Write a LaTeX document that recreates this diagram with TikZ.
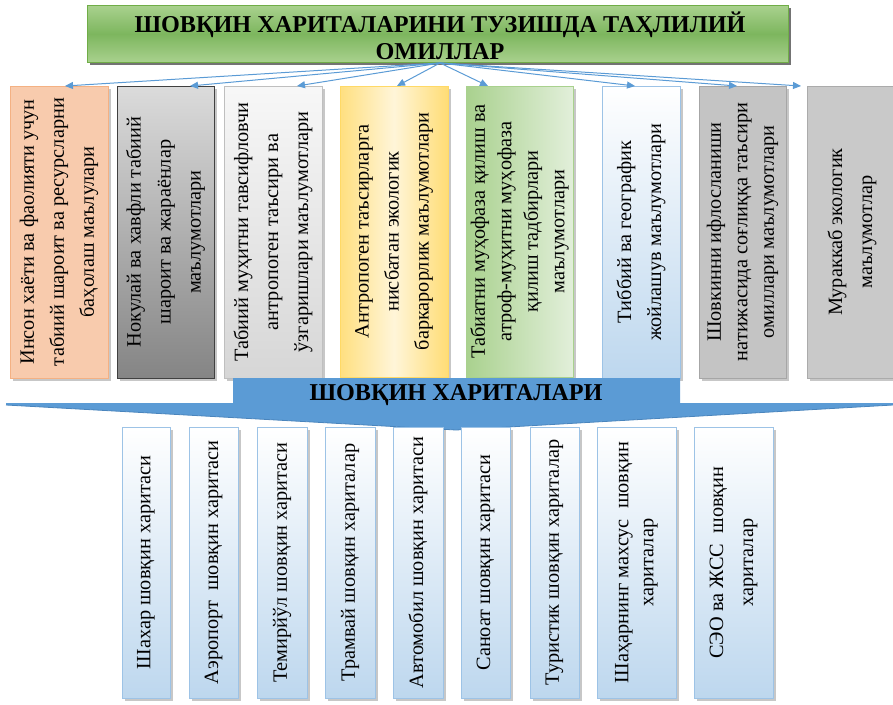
\documentclass[tikz,border=0pt]{standalone}
\usepackage{fontspec}
\setmainfont{Liberation Serif}
\usetikzlibrary{arrows.meta,shadows,calc}

\definecolor{linkblue}{HTML}{5B9BD5}
\definecolor{bannerblue}{HTML}{5B9BD5}
\definecolor{bannerdark}{HTML}{4A85BD}
\definecolor{titlegreen}{HTML}{A9D18E}
\definecolor{titlegreenmid}{HTML}{7DB65E}
\definecolor{titleborder}{HTML}{70AD47}
\definecolor{peach}{HTML}{F8CBAD}
\definecolor{peachborder}{HTML}{F4B183}
\definecolor{yellowstrong}{HTML}{FFD966}
\definecolor{yellowlight}{HTML}{FFF2CC}
\definecolor{greenstrong}{HTML}{A9D18E}
\definecolor{greenlight}{HTML}{E2EFDA}
\definecolor{paleblue}{HTML}{BDD7EE}
\definecolor{paleblueborder}{HTML}{9DC3E6}

\tikzset{
  panel/.style={anchor=north west, inner sep=0pt, outer sep=0pt, line width=0.8pt,
    drop shadow={shadow xshift=2.5pt, shadow yshift=-2.5pt, fill=black, opacity=0.22}},
  vtext/.style={rotate=90, align=center, inner sep=0pt,
    font=\fontsize{20.3}{30}\selectfont},
  vtextnarrow/.style={vtext, font=\fontsize{20.3}{26.5}\selectfont},
  mapbox/.style={panel, draw=paleblueborder, top color=white, bottom color=paleblue},
  link/.style={draw=linkblue, line width=1pt, -{Triangle[length=8pt,width=7pt]}},
  headfont/.style={font=\bfseries\fontsize{24.2}{27}\selectfont}
}

\begin{document}
\begin{tikzpicture}[x=1pt,y=-1pt]
\useasboundingbox (0,0) rectangle (893,704);

% title box
\node[anchor=north west, inner sep=0pt, minimum width=701pt, minimum height=57pt,
      draw=titleborder, line width=0.8pt,
      top color=titlegreen, bottom color=titlegreen, middle color=titlegreenmid,
      drop shadow={shadow xshift=3pt, shadow yshift=-3pt, fill=black, opacity=0.55}]
      (title) at (87,5) {};
\node[headfont, align=center, inner sep=0pt] (titletext) at (440,36)
  {ШОВҚИН ХАРИТАЛАРИНИ ТУЗИШДА ТАҲЛИЛИЙ\\ОМИЛЛАР};

% upper row of data sources
\node[panel, minimum width=98pt, minimum height=292pt, draw=peachborder, fill=peach] (u1) at (10,86) {};
\node[panel, minimum width=97pt, minimum height=292pt, draw=black!75,
      top color=black!14, bottom color=black!48] (u2) at (117,86) {};
\node[panel, minimum width=98pt, minimum height=292pt, draw=black!25,
      top color=black!3, bottom color=black!16] (u3) at (224,86) {};
\node[panel, minimum width=108pt, minimum height=291pt, draw=yellowstrong,
      left color=yellowstrong!75!yellowlight, right color=yellowstrong!85!yellowlight,
      middle color=yellowlight!75!white] (u4) at (340,86) {};
\node[panel, minimum width=107pt, minimum height=291pt, draw=greenstrong,
      left color=greenstrong, right color=greenlight] (u5) at (466,86) {};
\node[panel, minimum width=78pt, minimum height=292pt, draw=paleblueborder,
      top color=white, bottom color=paleblue] (u6) at (602,86) {};
\node[panel, minimum width=87pt, minimum height=292pt, draw=black!35,
      fill=black!23] (u7) at (699,86) {};
\node[panel, minimum width=90pt, minimum height=292pt, draw=black!33,
      fill=black!21] (u8) at (807,86) {};

\node[vtext] (ut1) at (u1.center) {Инсон хаёти ва фаолияти учун\\табиий шароит ва ресурсларни\\баҳолаш маълулари};
\node[vtext] (ut2) at (u2.center) {Нокулай ва хавфли табиий\\шароит ва жараёнлар\\маълумотлари};
\node[vtext] (ut3) at (u3.center) {Табиий муҳитни тавсифловчи\\антропоген таъсири ва\\ўзгаришлари маълумотлари};
\node[vtext] (ut4) at (u4.center) {Антропоген таъсирларга\\нисбатан экологик\\баркарорлик маълумотлари};
\node[vtextnarrow] (ut5) at (u5.center) {Табиатни муҳофаза қилиш ва\\атроф-муҳитни муҳофаза\\қилиш тадбирлари\\маълумотлари};
\node[vtext] (ut6) at (u6.center) {Тиббий ва географик\\жойлашув маълумотлари};
\node[vtextnarrow] (ut7) at (u7.center) {Шовкинни ифлосланиши\\натижасида соғлиққа таъсири\\омиллари маълумотлари};
\node[vtext] (ut8) at (u8.center) {Мураккаб экологик\\маълумотлар};

% connectors from the title box
\coordinate (hub) at (440,63);
\draw[link] (hub) -- ([xshift=55pt]u1.north west);
\draw[link] (hub) -- ([xshift=73pt]u2.north west);
\draw[link] (hub) -- ([xshift=73pt]u3.north west);
\draw[link] (hub) -- ([xshift=57pt]u4.north west);
\draw[link] (hub) -- ([xshift=22pt]u5.north west);
\draw[link] (hub) -- ([xshift=33pt]u6.north west);
\draw[link] (hub) -- ([xshift=38pt]u7.north west);
\draw[link] (hub) -- ([xshift=-6pt]u8.north west);

% banner arrow pointing down to the map types
\fill[bannerblue] (233,378) -- (680,378) -- (680,403) -- (893,403) -- (893,405)
  -- (456,430) -- (6,405) -- (6,403) -- (233,403) -- cycle;
\draw[bannerdark, line width=0.8pt] (893,405) -- (456,430) -- (6,405);
\node[headfont, inner sep=0pt] (bannertext) at (456,395) {ШОВҚИН ХАРИТАЛАРИ};

% lower row of map types
\node[mapbox, minimum width=48pt, minimum height=271pt] (m1) at (122,427) {};
\node[mapbox, minimum width=49pt, minimum height=271pt] (m2) at (189,427) {};
\node[mapbox, minimum width=50pt, minimum height=271pt] (m3) at (257,427) {};
\node[mapbox, minimum width=50pt, minimum height=271pt] (m4) at (325,427) {};
\node[mapbox, minimum width=50pt, minimum height=271pt] (m5) at (393,427) {};
\node[mapbox, minimum width=49pt, minimum height=271pt] (m6) at (461,427) {};
\node[mapbox, minimum width=49pt, minimum height=271pt] (m7) at (530,427) {};
\node[mapbox, minimum width=79pt, minimum height=271pt] (m8) at (597,427) {};
\node[mapbox, minimum width=79pt, minimum height=271pt] (m9) at (694,427) {};

\node[vtext] (mt1) at (m1.center) {Шахар шовқин харитаси};
\node[vtext] (mt2) at (m2.center) {Аэропорт\ \ шовқин харитаси};
\node[vtext] (mt3) at (m3.center) {Темирйўл шовқин харитаси};
\node[vtext] (mt4) at (m4.center) {Трамвай шовқин хариталар};
\node[vtext] (mt5) at (m5.center) {Автомобил шовқин харитаси};
\node[vtext] (mt6) at (m6.center) {Саноат шовқин харитаси};
\node[vtext] (mt7) at (m7.center) {Туристик шовқин хариталар};
\node[vtext, font=\fontsize{20.3}{25}\selectfont] (mt8) at (m8.center) {Шаҳарнинг махсус\ \ шовқин\\хариталар};
\node[vtext] (mt9) at (m9.center) {СЭО ва ЖСС\ \ шовқин\\хариталар};
\end{tikzpicture}
\end{document}
